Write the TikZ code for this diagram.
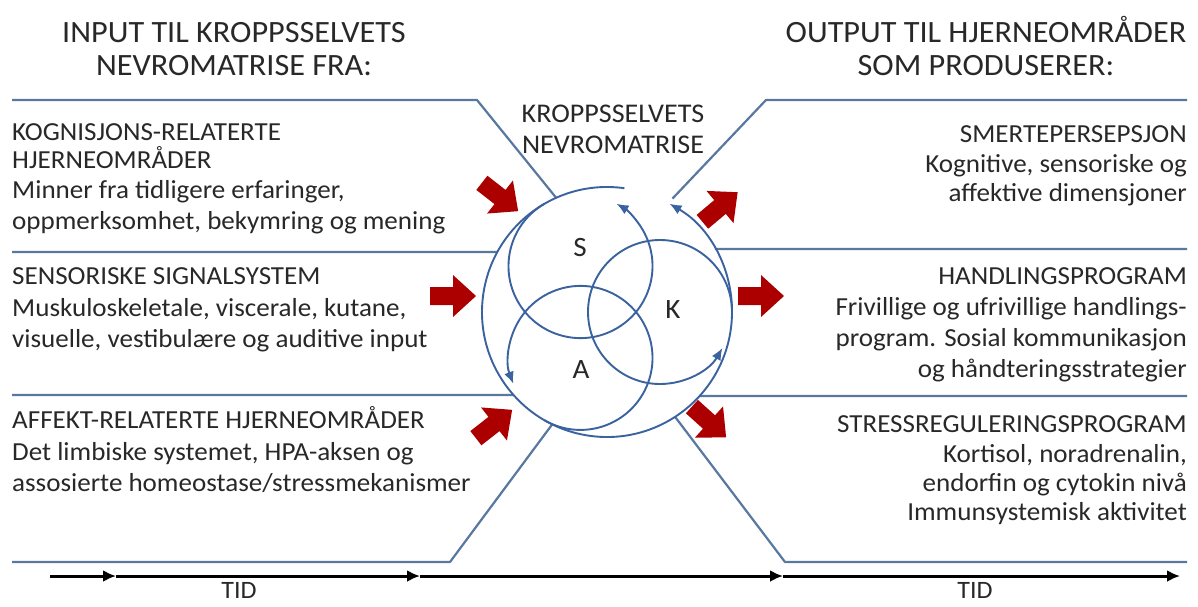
\documentclass[tikz,border=0pt]{standalone}
\usepackage{fontspec}
\setmainfont{Carlito}[FakeStretch=1.04]
\usetikzlibrary{arrows.meta}
\definecolor{frame}{RGB}{88,120,160}
\definecolor{ring}{RGB}{58,98,158}
\definecolor{ink}{RGB}{40,40,40}
\definecolor{blockred}{RGB}{172,0,0}
\newcommand\bodyfont{\fontsize{26}{31}\selectfont}
\newcommand\headfont{\fontsize{31}{36}\selectfont}
\newcommand\titlefont{\fontsize{27}{31}\selectfont}
\newcommand\letterfont{\fontsize{28}{32}\selectfont}
\newcommand\axisfont{\fontsize{25}{28}\selectfont}
\begin{document}
\begin{tikzpicture}[x=1pt,y=1pt,
  frameline/.style={draw=frame,line width=2.2pt,line join=round},
  ringline/.style={draw=ring,line width=1.9pt},
  ringarrow/.style={ringline,-{Latex[length=12pt,width=10pt]}},
  lt/.style={anchor=base west,inner sep=0pt,font=\bodyfont,text=ink},
  rt/.style={anchor=base east,inner sep=0pt,font=\bodyfont,text=ink},
  head/.style={anchor=base,inner sep=0pt,font=\headfont,text=ink},
  title/.style={anchor=base,inner sep=0pt,font=\titlefont,text=ink},
  letter/.style={anchor=center,inner sep=0pt,font=\letterfont,text=ink},
  axislabel/.style={anchor=base,inner sep=0pt,font=\axisfont,text=ink},
  tline/.style={draw=black,line width=3pt,-{Latex[length=13pt,width=12pt]}},
  blockarrow/.style={fill=blockred}
]
\useasboundingbox (0,0) rectangle (1198,-606);
\fill[white] (0,0) rectangle (1198,-606);

% centres of the matrix circles
\coordinate (O) at (607,-312);
\coordinate (Sc) at ([shift={(120:53)}]O);
\coordinate (Kc) at ([shift={(0:53)}]O);
\coordinate (Ac) at ([shift={(240:53)}]O);

% frame lines on the input side
\draw[frameline] (12,-100) -- (477,-100) -- ([shift={(114:125)}]O);
\draw[frameline] (12,-252) -- ([shift={(151.3:125)}]O);
\draw[frameline] (12,-395) -- ([shift={(221.6:125)}]O);
\draw[frameline] (12,-562) -- (450,-562) -- ([shift={(244:125)}]O);

% frame lines on the output side
\draw[frameline] (1187,-100) -- (766,-100) -- ([shift={(60:131)}]O);
\draw[frameline] (1187,-249) -- ([shift={(30.3:125)}]O);
\draw[frameline] (1187,-396) -- ([shift={(-42.2:125)}]O);
\draw[frameline] (1187,-562) -- (785,-562) -- ([shift={(-57:125)}]O);

% outer ring and the three inner circles
\draw[ringarrow] ([shift={(82:125)}]O) arc[start angle=82,end angle=420,radius=125];
\draw[ringarrow] ([shift={(120:72)}]Sc) arc[start angle=120,end angle=420,radius=72];
\draw[ringarrow] ([shift={(0:72)}]Kc) arc[start angle=0,end angle=330,radius=72];
\draw[ringarrow] ([shift={(240:72)}]Ac) arc[start angle=240,end angle=561,radius=72];

\node[letter] (S) at (580,-248) {S};
\node[letter] (K) at (673,-310) {K};
\node[letter] (A) at (581,-370) {A};

\node[title] (kt1) at (613,-122) {KROPPSSELVETS};
\node[title] (kt2) at (613,-153) {NEVROMATRISE};

% red block arrows
\foreach \px/\py/\ang in {500/-197/-38, 453/-296/0, 494/-424/38,
                          720/-207/40, 761/-296/0, 709/-422/-42}{
  \fill[blockarrow,shift={(\px,\py)},rotate=\ang]
    (-23,-9) -- (0,-9) -- (0,-21) -- (23,0) -- (0,21) -- (0,9) -- (-23,9) -- cycle;
}

% headings
\node[head] (hl1) at (234,-42) {INPUT TIL KROPPSSELVETS};
\node[head] (hl2) at (234,-75) {NEVROMATRISE FRA:};
\node[head] (hr1) at (986,-42) {OUTPUT TIL HJERNEOMRÅDER};
\node[head] (hr2) at (986,-75) {SOM PRODUSERER:};

% input blocks
\node[lt] (a1) at (12,-140) {KOGNISJONS-RELATERTE};
\node[lt] (a2) at (12,-168) {HJERNEOMRÅDER};
\node[lt] (a3) at (12,-198) {Minner fra tidligere erfaringer,};
\node[lt] (a4) at (12,-229) {oppmerksomhet, bekymring og mening};

\node[lt] (b1) at (12,-284) {SENSORISKE SIGNALSYSTEM};
\node[lt] (b2) at (12,-316) {Muskuloskeletale, viscerale, kutane,};
\node[lt] (b3) at (12,-347) {visuelle, vestibulære og auditive input};

\node[lt] (c1) at (12,-428) {AFFEKT-RELATERTE HJERNEOMRÅDER};
\node[lt] (c2) at (12,-460) {Det limbiske systemet, HPA-aksen og};
\node[lt] (c3) at (12,-491) {assosierte homeostase/stressmekanismer};

% output blocks
\node[rt] (d1) at (1187,-142) {SMERTEPERSEPSJON};
\node[rt] (d2) at (1187,-172) {Kognitive, sensoriske og};
\node[rt] (d3) at (1187,-201) {affektive dimensjoner};

\node[rt] (e1) at (1187,-284) {HANDLINGSPROGRAM};
\node[rt] (e2) at (1187,-315) {Frivillige og ufrivillige handlings-};
\node[rt] (e3) at (1187,-346) {program. Sosial kommunikasjon};
\node[rt] (e4) at (1187,-377) {og håndteringsstrategier};

\node[rt] (f1) at (1187,-432) {STRESSREGULERINGSPROGRAM};
\node[rt] (f2) at (1187,-462) {Kortisol, noradrenalin,};
\node[rt] (f3) at (1187,-491) {endorfin og cytokin nivå};
\node[rt] (f4) at (1187,-520) {Immunsystemisk aktivitet};

% time axis
\coordinate (t0) at (50,-576);
\coordinate (t1) at (116,-576);
\coordinate (t2) at (420,-576);
\coordinate (t3) at (783,-576);
\coordinate (t4) at (1180,-576);
\draw[tline] (t0) -- (t1);
\draw[tline] (t1) -- (t2);
\draw[tline] (t2) -- (t3);
\draw[tline] (t3) -- (t4);
\node[axislabel] (tid1) at (239,-598) {TID};
\node[axislabel] (tid2) at (975,-598) {TID};
\end{tikzpicture}
\end{document}
